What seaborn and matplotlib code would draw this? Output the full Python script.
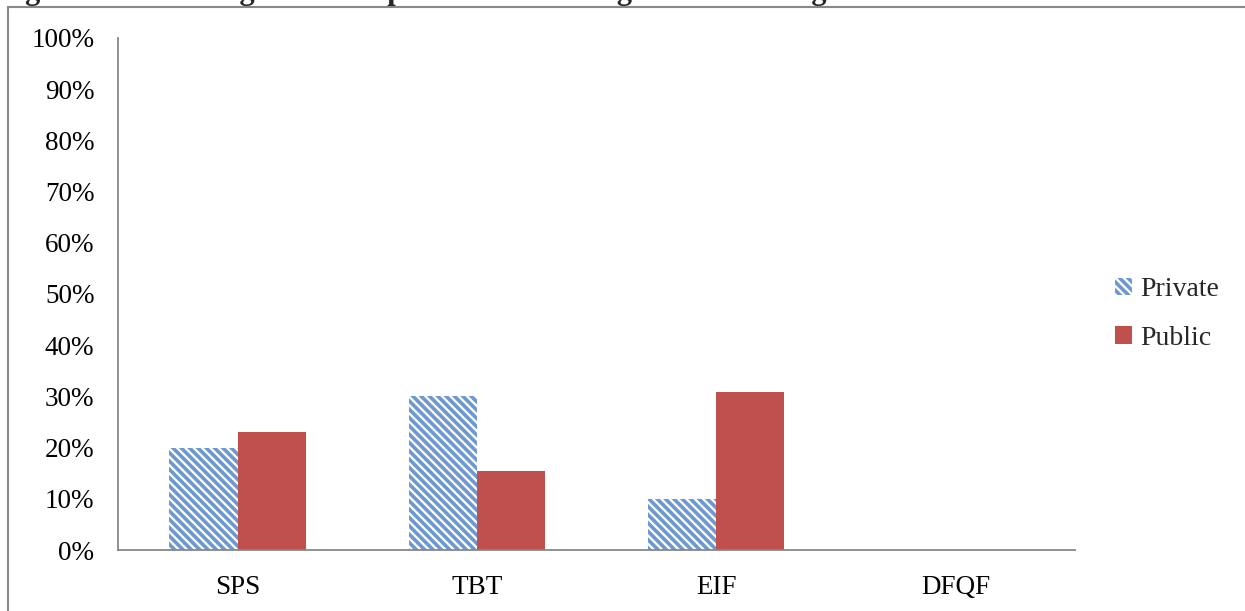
import matplotlib
matplotlib.use("Agg")
import matplotlib.pyplot as plt
import seaborn as sns
import pandas as pd
from matplotlib.patches import Rectangle
from matplotlib.ticker import PercentFormatter

categories = ["SPS", "TBT", "EIF", "DFQF"]
private = [20.0, 30.0, 10.0, 0.0]
public = [23.08, 15.38, 30.77, 0.0]
series = ["Private", "Public"]
yticks = [0, 10, 20, 30, 40, 50, 60, 70, 80, 90, 100]

df = pd.DataFrame({
    "cat": categories * 2,
    "val": private + public,
    "grp": [series[0]] * len(categories) + [series[1]] * len(categories),
})

sns.set_theme(style="white")
plt.rcParams["font.family"] = ["Liberation Serif", "DejaVu Serif"]
plt.rcParams["hatch.linewidth"] = 2.6

fig = plt.figure(figsize=(12.45, 6.11), dpi=100)
ax = fig.add_axes([118 / 1245, 61 / 611, (1075 - 118) / 1245, (550 - 38) / 611])

blue = "#6D98D2"
red = "#C0504D"
sns.barplot(data=df, x="cat", y="val", hue="grp", order=categories,
            hue_order=series, palette=[blue, red], width=0.57, ax=ax,
            saturation=1, legend=False)

HATCH = "\\" * 4
for bar in ax.containers[0]:
    bar.set_facecolor("white")
    bar.set_edgecolor(blue)
    bar.set_hatch(HATCH)
    bar.set_linewidth(0)
for bar in ax.containers[1]:
    bar.set_linewidth(0)

ax.set_ylim(0, 100)
ax.set_yticks(yticks)
ax.yaxis.set_major_formatter(PercentFormatter(decimals=0))
ax.set_xlim(-0.5, len(categories) - 0.5)
ax.set_xlabel("")
ax.set_ylabel("")
for s in ["top", "right"]:
    ax.spines[s].set_visible(False)
for s in ["left", "bottom"]:
    ax.spines[s].set_color("#888888")
    ax.spines[s].set_linewidth(1.3)
ax.tick_params(axis="both", length=0, labelsize=19.5, colors="black")
ax.tick_params(axis="y", pad=17)
ax.tick_params(axis="x", pad=18)

# legend
h1 = Rectangle((0, 0), 1, 1, facecolor="white", edgecolor=blue, hatch=HATCH, linewidth=0)
h2 = Rectangle((0, 0), 1, 1, facecolor=red, linewidth=0)
fig.legend([h1, h2], series, loc="center left", bbox_to_anchor=(1090 / 1245, 1 - 314 / 611),
           frameon=False, fontsize=20, handlelength=0.6, handleheight=0.6,
           handletextpad=0.3, labelspacing=0.85)

# page border and clipped caption
fig.add_artist(Rectangle((8 / 1245, -0.1), 1.2, (611 - 7) / 611 + 0.1,
                         transform=fig.transFigure, fill=False,
                         edgecolor="#888888", linewidth=1.5))
fig.text(-2 / 1245, 1.0 + 8 / 611, "Figure 6: Percentage of all respondents receiving WTO training",
         fontsize=22, fontweight="bold", va="center", ha="left")

fig.savefig("out.png", dpi=100)
